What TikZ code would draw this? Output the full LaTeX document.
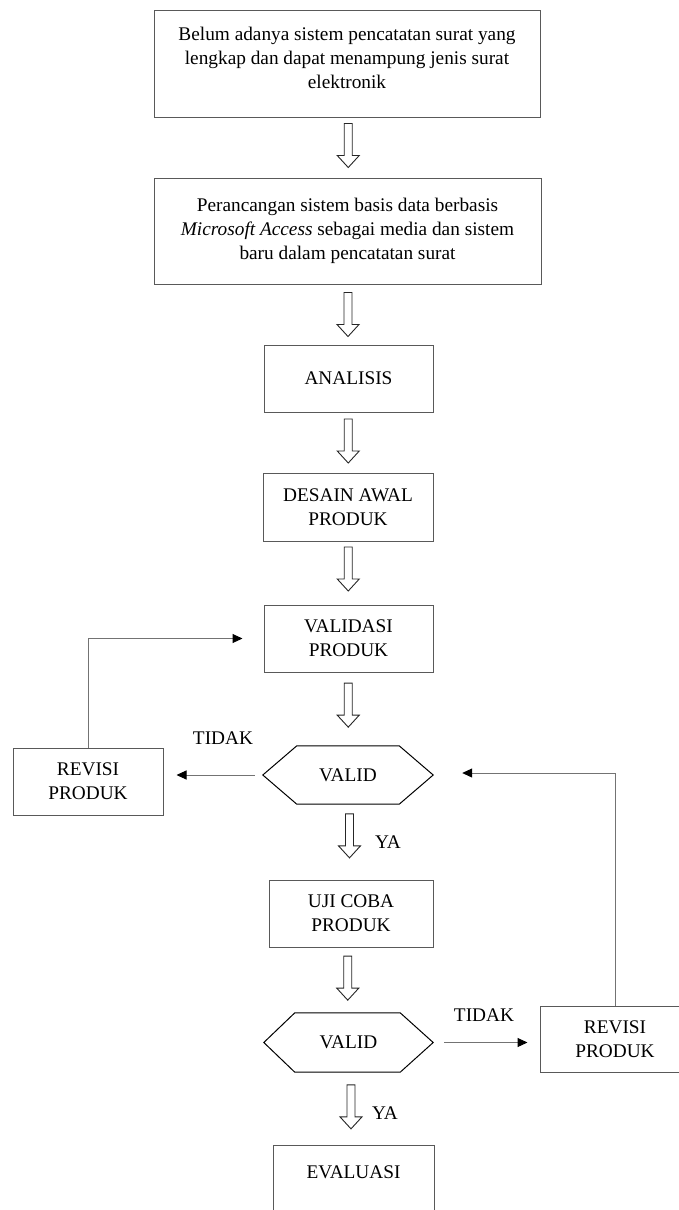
\documentclass[tikz,border=0pt]{standalone}
\usepackage{fontspec}
\setmainfont{Liberation Serif}
\usetikzlibrary{calc,arrows.meta}
\tikzset{
  box/.style={draw=black!65, line width=1pt, rectangle, inner sep=0pt, align=center, font=\fontsize{19.3}{24}\selectfont},
  txt/.style={inner sep=0pt, align=center, font=\fontsize{19.3}{24}\selectfont},
  hexnode/.style={inner sep=0pt, font=\fontsize{19.3}{24}\selectfont},
  conn/.style={draw=black!55, line width=1pt, -{Triangle[length=10pt,width=9pt,fill=black,color=black]}},
  harrow/.pic={\draw[black!85, line width=0.9pt, line join=miter] (-4,-22) -- (4,-22) -- (4,10) -- (11,10) -- (0,22) -- (-11,10) -- (-4,10) -- cycle;}
}
\begin{document}
\begin{tikzpicture}[x=1pt,y=-1pt]
\clip (0,0) rectangle (679,1210);
\fill[white] (0,0) rectangle (679,1210);

% boxes
\node[box, minimum width=386pt, minimum height=107pt] (b1) at (347,63.5) {};
\node[txt] (t1) at (347,58) {Belum adanya sistem pencatatan surat yang\\lengkap dan dapat menampung jenis surat\\elektronik};
\node[box, minimum width=387pt, minimum height=106pt] (b2) at (347.5,231) {Perancangan sistem basis data berbasis\\\textit{Microsoft Access} sebagai media dan sistem\\baru dalam pencatatan surat};
\node[box, minimum width=169pt, minimum height=67pt] (an) at (348.5,378.5) {ANALISIS};
\node[box, minimum width=170pt, minimum height=68pt] (de) at (348,507) {DESAIN AWAL\\PRODUK};
\node[box, minimum width=169pt, minimum height=67pt] (va) at (348.5,638.5) {VALIDASI\\PRODUK};

% hexagon 1
\node[hexnode, minimum width=170pt, minimum height=58pt] (h1) at (348,775) {VALID};
\draw[black, line width=1pt] (h1.west) -- ([xshift=34pt]h1.north west) -- ([xshift=-34pt]h1.north east) -- (h1.east) -- ([xshift=-34pt]h1.south east) -- ([xshift=34pt]h1.south west) -- cycle;

\node[box, minimum width=150pt, minimum height=67pt] (r1) at (88,781.5) {REVISI\\PRODUK};
\node[box, minimum width=164pt, minimum height=67pt] (uj) at (351,913.5) {UJI COBA\\PRODUK};

% hexagon 2
\node[hexnode, minimum width=169pt, minimum height=59pt] (h2) at (348.5,1042.5) {VALID};
\draw[black, line width=1pt] (h2.west) -- ([xshift=31pt]h2.north west) -- ([xshift=-33pt]h2.north east) -- (h2.east) -- ([xshift=-33pt]h2.south east) -- ([xshift=31pt]h2.south west) -- cycle;

\node[box, minimum width=150pt, minimum height=66pt] (r2) at (615,1039) {REVISI\\PRODUK};
\node[box, minimum width=161pt, minimum height=70pt] (ev) at (353.5,1180) {};
\node[txt] (tev) at (353.5,1172) {EVALUASI};

% hollow arrows
\pic (a1) at ($(b1.south)!0.5!(b2.north)+(1,-2)$) {harrow};
\pic (a2) at ($(b2.south)!0.5!(an.north)$) {harrow};
\pic (a3) at ($(an.south)!0.5!(de.north)+(0,-1.5)$) {harrow};
\pic (a4) at ($(de.south)!0.5!(va.north)+(0,-4)$) {harrow};
\pic (a5) at ($(va.south)!0.5!(h1.north)+(0,-4)$) {harrow};
\pic (a6) at ($(h1.south)!0.5!(uj.north)+(0,-6)$) {harrow};
\pic (a7) at ($(uj.south)!0.5!(h2.north)+(-2,-2)$) {harrow};
\pic (a8) at ($(h2.south)!0.5!(ev.north)+(0,-1.5)$) {harrow};

% labels
\node[txt] (ya1) at (388,842) {YA};
\node[txt] (ya2) at (385,1113) {YA};
\node[txt] (td1) at (223,738) {TIDAK};
\node[txt] (td2) at (484,1015) {TIDAK};

% connectors
\draw[conn] ([xshift=-8pt]h1.west) -- ([xshift=13pt]r1.east |- h1.west);
\draw[conn] (r1.north) |- ([xshift=-21pt]va.west);
\draw[conn] ([xshift=11pt]h2.east) -- ([xshift=-12pt]r2.west |- h2.east);
\draw[conn] (r2.north) |- ([xshift=29pt,yshift=2pt]h1.east);
\end{tikzpicture}
\end{document}
